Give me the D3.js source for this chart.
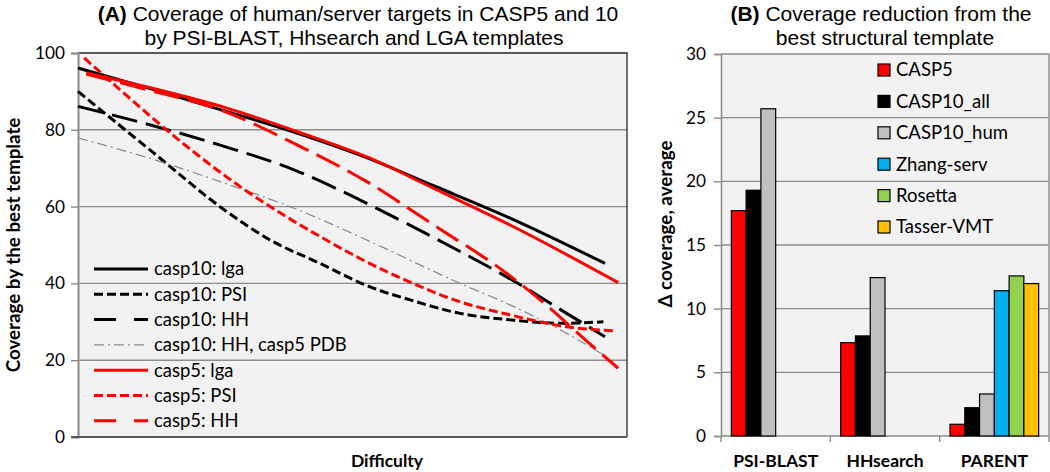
<!DOCTYPE html>
<html>
<head>
<meta charset="utf-8">
<script src="https://cdn.jsdelivr.net/npm/d3@7"></script>
<style>
  body { margin: 0; background: #fff; }
  text { font-family: Lato, "Open Sans", sans-serif; fill: #000; }
  .title { font-family: "Liberation Sans", Arial, sans-serif; font-size: 21px; }
</style>
</head>
<body>
<script>
// ---- data ----
// left panel: trend curves, [difficulty, coverage]
var casp10Lga = [[0,96.1],[13,90.8],[27,84.8],[40,79.1],[51.4,73.4],[65,65.3],[78.7,57],[96,45.2]];
var casp10Psi = [[0,90],[13.5,74.3],[27,58.8],[35,51.3],[44.1,45.2],[53.2,39.1],[60.5,35.7],[69.6,32.2],[78.7,30.5],[88,29.6],[95.7,30]];
var casp10HH = [[0,86.1],[11.8,81.8],[25.9,76],[40,69.2],[51.4,61.7],[60,55.5],[69.6,48.3],[78.1,41.7],[89,32.2],[96,26.1]];
var casp10HHpdb = [[0,77.9],[14.8,71.8],[25.9,66.5],[40,59.2],[52,51.7],[69.6,40],[78.7,34.4],[89,27],[95.7,21.4]];
var casp5Lga = [[1.5,94.8],[13,91],[27,85.7],[40,79.5],[53.2,72.6],[65,64.6],[78.7,55.2],[98.4,40.2]];
var casp5Psi = [[1.15,98.7],[8,90],[15.7,80.5],[27,67.8],[35,60],[44.1,52.2],[53,45.3],[61,40],[69.6,35.2],[78.7,31.8],[89,28.7],[98.1,27.6]];
var casp5HH = [[1.5,94.5],[13,90.3],[25.9,85.2],[40,76],[52.6,66.5],[65,55],[78.1,42.6],[86,33.5],[92,25.8],[98.4,17.9]];
var lineLabels = ["casp10: lga","casp10: PSI","casp10: HH","casp10: HH, casp5 PDB","casp5: lga","casp5: PSI","casp5: HH"];
var leftTicks = [0,20,40,60,80,100];

// right panel: bars
var methods = ["PSI-BLAST","HHsearch","PARENT"];
var barSeries = ["CASP5","CASP10_all","CASP10_hum","Zhang-serv","Rosetta","Tasser-VMT"];
var casp5Vals = [17.7, 7.33, 0.92];
var casp10AllVals = [19.3, 7.86, 2.22];
var casp10HumVals = [25.7, 12.44, 3.3];
var zhangVals = [null, null, 11.41];
var rosettaVals = [null, null, 12.57];
var tasserVals = [null, null, 11.97];
var rightTicks = [0,5,10,15,20,25,30];

var barColors = ["#ff0000","#000000","#c0c0c0","#00b0f0","#92d050","#ffc000"];

var svg = d3.select("body").append("svg")
    .attr("width", 1050)
    .attr("height", 472);

// size a font so that a sample text gets the width seen in the reference
function fitSize(sample, base, bold, target) {
    var t = svg.append("text").style("font-size", base + "px")
        .style("font-weight", bold ? "bold" : "normal").text(sample);
    var w = t.node().getComputedTextLength();
    t.remove();
    return base * target / w;
}
var tickSize = fitSize("100", 17, false, 30);
var legSize = fitSize("casp10: HH, casp5 PDB", 17, false, 193);
var legBSize = fitSize("CASP10_hum", 17, false, 112);
var yTitleSize = fitSize("Coverage by the best template", 17, true, 255);
var catSize = fitSize("PSI-BLAST", 17, true, 85);

// ================= panel A =================
var A = {left: 78, right: 627, top: 53, bottom: 437};

var xD = d3.scaleLinear().domain([0, 100]).range([A.left, A.right]);
var yA = d3.scaleLinear().domain([0, 100]).range([A.bottom, A.top]);

svg.append("rect")
    .attr("x", A.left).attr("y", A.top)
    .attr("width", A.right - A.left).attr("height", A.bottom - A.top)
    .attr("fill", "#f2f2f2");

// gridlines
svg.append("g").selectAll("line")
    .data(leftTicks.filter(function(d) { return d > 0 && d < 100; }))
    .enter().append("line")
    .attr("x1", A.left).attr("x2", A.right)
    .attr("y1", function(d) { return yA(d); })
    .attr("y2", function(d) { return yA(d); })
    .attr("stroke", "#8c8c8c").attr("stroke-width", 1.4);

// border top/right
svg.append("path")
    .attr("d", "M" + A.left + "," + A.top + "H" + A.right + "V" + A.bottom)
    .attr("fill", "none").attr("stroke", "#262626").attr("stroke-width", 1.3);

var yAxisA = d3.axisLeft(yA).tickValues(leftTicks).tickSize(7).tickPadding(6);
var gA = svg.append("g")
    .attr("transform", "translate(" + A.left + ",0)")
    .call(yAxisA);
gA.select(".domain").attr("stroke", "#8c8c8c").attr("stroke-width", 2);
gA.selectAll(".tick line").attr("stroke", "#8c8c8c").attr("stroke-width", 1.4);
gA.selectAll(".tick text").style("font-size", tickSize + "px").attr("font-family", null);

// bottom axis line
svg.append("line")
    .attr("x1", A.left - 7).attr("x2", A.right)
    .attr("y1", A.bottom).attr("y2", A.bottom)
    .attr("stroke", "#595959").attr("stroke-width", 2);

var lineStyles = [
    {data: casp10Lga,   color: "#000", width: 3,   dash: null},
    {data: casp10Psi,   color: "#000", width: 3,   dash: "9,4"},
    {data: casp10HH,    color: "#000", width: 3,   dash: "26,9"},
    {data: casp10HHpdb, color: "#8c8c8c", width: 1.3, dash: "10,4,2,4"},
    {data: casp5Lga,    color: "#ff0000", width: 3, dash: null},
    {data: casp5Psi,    color: "#ff0000", width: 3, dash: "9,4"},
    {data: casp5HH,     color: "#ff0000", width: 3, dash: "26,9"}
];

var trend = d3.line()
    .x(function(d) { return xD(d[0]); })
    .y(function(d) { return yA(d[1]); })
    .curve(d3.curveMonotoneX);

svg.append("g").selectAll("path")
    .data(lineStyles)
    .enter().append("path")
    .attr("d", function(d) { return trend(d.data); })
    .attr("fill", "none")
    .attr("stroke", function(d) { return d.color; })
    .attr("stroke-width", function(d) { return d.width; })
    .attr("stroke-dasharray", function(d) { return d.dash; });

// legend A
var legA = svg.append("g").selectAll("g")
    .data(lineStyles)
    .enter().append("g")
    .attr("transform", function(d, i) { return "translate(94," + (269 + i * 25.3) + ")"; });
legA.append("line")
    .attr("x1", 0).attr("x2", 54)
    .attr("stroke", function(d) { return d.color; })
    .attr("stroke-width", function(d) { return d.width; })
    .attr("stroke-dasharray", function(d) { return d.dash ? (d.dash == "26,9" ? "22,18" : d.dash) : null; });
legA.append("text")
    .attr("x", 60).attr("dy", "0.35em")
    .style("font-size", legSize + "px")
    .text(function(d, i) { return lineLabels[i]; });

// titles A
var tA = svg.append("text").attr("class", "title").attr("text-anchor", "middle")
    .attr("x", 358).attr("y", 21);
tA.append("tspan").attr("font-weight", "bold").text("(A)");
tA.append("tspan").text(" Coverage of human/server targets in CASP5 and 10");
svg.append("text").attr("class", "title").attr("text-anchor", "middle")
    .attr("x", 354).attr("y", 45)
    .text("by PSI-BLAST, Hhsearch and LGA templates");

svg.append("text")
    .attr("transform", "translate(20,245) rotate(-90)")
    .attr("text-anchor", "middle")
    .style("font-size", yTitleSize + "px").style("font-weight", "bold")
    .text("Coverage by the best template");

svg.append("text")
    .attr("x", 387).attr("y", 467)
    .attr("text-anchor", "middle")
    .style("font-size", catSize + "px").style("font-weight", "bold")
    .text("Difficulty");

// ================= panel B =================
var B = {left: 721, right: 1049, top: 54, bottom: 436};

var x0 = d3.scaleBand().domain(methods).range([B.left, B.right]);
var x1 = d3.scaleBand().domain(barSeries).range([0, x0.bandwidth()])
    .paddingInner(0).paddingOuter(0.7);
var yB = d3.scaleLinear().domain([0, 30]).range([B.bottom, B.top]);

svg.append("rect")
    .attr("x", B.left).attr("y", B.top)
    .attr("width", B.right - B.left).attr("height", B.bottom - B.top)
    .attr("fill", "#f2f2f2");

svg.append("g").selectAll("line")
    .data(rightTicks.filter(function(d) { return d > 0 && d < 30; }))
    .enter().append("line")
    .attr("x1", B.left).attr("x2", B.right)
    .attr("y1", function(d) { return yB(d); })
    .attr("y2", function(d) { return yB(d); })
    .attr("stroke", "#8c8c8c").attr("stroke-width", 1.4);

svg.append("path")
    .attr("d", "M" + B.left + "," + B.top + "H" + B.right + "V" + B.bottom)
    .attr("fill", "none").attr("stroke", "#8c8c8c").attr("stroke-width", 1.4);

var yAxisB = d3.axisLeft(yB).tickValues(rightTicks).tickSize(7).tickPadding(8);
var gB = svg.append("g")
    .attr("transform", "translate(" + B.left + ",0)")
    .call(yAxisB);
gB.select(".domain").attr("stroke", "#8c8c8c").attr("stroke-width", 1.6);
gB.selectAll(".tick line").attr("stroke", "#8c8c8c").attr("stroke-width", 1.4);
gB.selectAll(".tick text").style("font-size", tickSize + "px").attr("font-family", null);

// bottom axis with boundary ticks
svg.append("line")
    .attr("x1", B.left).attr("x2", B.right)
    .attr("y1", B.bottom).attr("y2", B.bottom)
    .attr("stroke", "#8c8c8c").attr("stroke-width", 1.6);
svg.append("g").selectAll("line")
    .data(methods.map(function(m) { return x0(m); }).concat([B.right]))
    .enter().append("line")
    .attr("x1", function(d) { return d; }).attr("x2", function(d) { return d; })
    .attr("y1", B.bottom).attr("y2", B.bottom + 6)
    .attr("stroke", "#8c8c8c").attr("stroke-width", 1.4);

svg.append("g").selectAll("text")
    .data(methods)
    .enter().append("text")
    .attr("x", function(d) { return x0(d) + x0.bandwidth() / 2; })
    .attr("y", 467)
    .attr("text-anchor", "middle")
    .style("font-size", catSize + "px").style("font-weight", "bold")
    .text(function(d) { return d; });

var barValues = [casp5Vals, casp10AllVals, casp10HumVals, zhangVals, rosettaVals, tasserVals];
var bars = [];
methods.forEach(function(m, i) {
    barSeries.forEach(function(s, j) {
        if (barValues[j][i] != null) bars.push({method: m, series: s, value: barValues[j][i], color: barColors[j]});
    });
});

svg.append("g").selectAll("rect")
    .data(bars)
    .enter().append("rect")
    .attr("x", function(d) { return x0(d.method) + x1(d.series); })
    .attr("y", function(d) { return yB(d.value); })
    .attr("width", x1.bandwidth())
    .attr("height", function(d) { return B.bottom - yB(d.value); })
    .attr("fill", function(d) { return d.color; })
    .attr("stroke", "#000").attr("stroke-width", 1.2);

// legend B
var legB = svg.append("g").selectAll("g")
    .data(barSeries)
    .enter().append("g")
    .attr("transform", function(d, i) { return "translate(878," + (70 + i * 31.4) + ")"; });
legB.append("rect")
    .attr("x", 0).attr("y", -6).attr("width", 12).attr("height", 12)
    .attr("fill", function(d, i) { return barColors[i]; })
    .attr("stroke", "#000").attr("stroke-width", 1.2);
legB.append("text")
    .attr("x", 18).attr("dy", "0.35em")
    .style("font-size", legBSize + "px")
    .text(function(d) { return d; });

var tB = svg.append("text").attr("class", "title").attr("text-anchor", "middle")
    .attr("x", 881).attr("y", 21);
tB.append("tspan").attr("font-weight", "bold").text("(B)");
tB.append("tspan").text(" Coverage reduction from the");
svg.append("text").attr("class", "title").attr("text-anchor", "middle")
    .attr("x", 885).attr("y", 45)
    .text("best structural template");

svg.append("text")
    .attr("transform", "translate(672,224) rotate(-90)")
    .attr("text-anchor", "middle")
    .style("font-size", yTitleSize + "px").style("font-weight", "bold")
    .text("Δ coverage, average");
</script>
</body>
</html>
